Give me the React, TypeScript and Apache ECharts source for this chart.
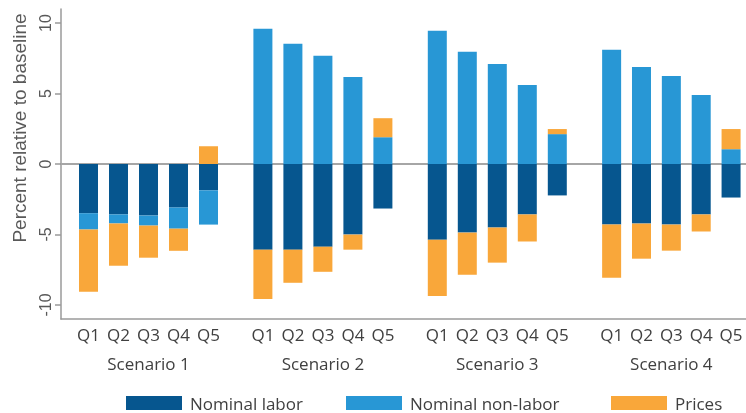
import React, { useEffect, useRef } from "react";
import * as echarts from "echarts";

const quintiles = ["Q1", "Q2", "Q3", "Q4", "Q5"];
const scenarios = ["Scenario 1", "Scenario 2", "Scenario 3", "Scenario 4"];
const seriesNames = ["Nominal labor", "Nominal non-labor", "Prices"];
const yTicks = [-10, -5, 0, 5, 10];

// Values per bar: scenario 1 Q1..Q5, scenario 2 Q1..Q5, ...
const nominalLabor = [
  -3.49, -3.58, -3.66, -3.09, -1.87,
  -6.08, -6.08, -5.87, -5.01, -3.16,
  -5.37, -4.87, -4.51, -3.58, -2.23,
  -4.3, -4.23, -4.3, -3.58, -2.38,
];
const nominalNonLabor = [
  -1.16, -0.64, -0.71, -1.5, -2.43,
  9.6, 8.53, 7.68, 6.18, 1.9,
  9.46, 7.96, 7.1, 5.6, 2.12,
  8.1, 6.89, 6.25, 4.9, 1.05,
];
const prices = [
  -4.42, -3.0, -2.28, -1.57, 1.26,
  -3.5, -2.35, -1.78, -1.07, 1.35,
  -3.99, -2.99, -2.49, -1.92, 0.36,
  -3.78, -2.49, -1.85, -1.21, 1.43,
];

const colors = ["#06568F", "#2897D5", "#F9A73A"];
const axisGray = "#9a9a9a";
const labelFont = "'Open Sans', sans-serif";
const tickFont = "'Liberation Sans', Arial, sans-serif";

// layout
const TOP = 9;
const BOTTOM = 94;
const PLOT_LEFT = 61;
const GROUP_LEFT0 = 73.5;
const GROUP_STEP = 174.4;
const GROUP_WIDTH = 150;
const Y_MIN = -11;
const Y_MAX = 11;

export default function App() {
  const ref = useRef<HTMLDivElement>(null);
  useEffect(() => {
    if (!ref.current) return;
    const chart = echarts.init(ref.current, undefined, { renderer: "svg" });
    const values = [nominalLabor, nominalNonLabor, prices];
    const n = quintiles.length;

    const grids: any[] = [{ left: PLOT_LEFT, right: 0, top: TOP, bottom: BOTTOM }];
    const xAxes: any[] = [
      {
        // bottom frame line
        gridIndex: 0,
        type: "value",
        min: 0,
        max: 1,
        position: "bottom",
        axisLine: { show: true, onZero: false, lineStyle: { color: axisGray, width: 1.5 } },
        axisTick: { show: false },
        axisLabel: { show: false },
        splitLine: { show: false },
      },
      {
        // zero line
        gridIndex: 0,
        type: "value",
        min: 0,
        max: 1,
        position: "bottom",
        axisLine: { show: true, onZero: true, lineStyle: { color: "#a6a6a6", width: 2 } },
        axisTick: { show: false },
        axisLabel: { show: false },
        splitLine: { show: false },
      },
    ];
    const yAxes: any[] = [
      {
        gridIndex: 0,
        type: "value",
        min: Y_MIN,
        max: Y_MAX,
        axisLine: { show: true, onZero: false, lineStyle: { color: axisGray, width: 1.5 } },
        axisTick: { show: true, length: 6, customValues: yTicks, lineStyle: { color: axisGray, width: 1.5 } },
        splitLine: { show: false },
        axisLabel: {
          customValues: yTicks,
          rotate: 90,
          margin: 8,
          fontSize: 16,
          fontFamily: tickFont,
          color: "#595959",
        },
      },
    ];
    const series: any[] = [];

    scenarios.forEach((scen, s) => {
      const g = s + 1;
      grids.push({
        left: GROUP_LEFT0 + s * GROUP_STEP,
        width: GROUP_WIDTH,
        top: TOP,
        bottom: BOTTOM,
      });
      xAxes.push({
        gridIndex: g,
        type: "category",
        data: quintiles,
        position: "bottom",
        axisLine: { show: false, onZero: false },
        axisTick: { show: false },
        splitLine: { show: false },
        axisLabel: {
          margin: 7,
          fontSize: 17,
          fontFamily: labelFont,
          color: "#404040",
          interval: 0,
        },
        name: scen,
        nameLocation: "middle",
        nameGap: 36,
        nameTextStyle: {
          fontSize: 17,
          fontFamily: labelFont,
          color: "#404040",
          verticalAlign: "top",
        },
      });
      yAxes.push({
        gridIndex: g,
        type: "value",
        min: Y_MIN,
        max: Y_MAX,
        show: false,
        splitLine: { show: false },
      });
      seriesNames.forEach((name, k) => {
        series.push({
          type: "bar",
          name,
          xAxisIndex: g + 1,
          yAxisIndex: g,
          stack: "total" + s,
          barWidth: 19,
          itemStyle: { color: colors[k] },
          data: values[k].slice(s * n, s * n + n),
        });
      });
    });

    const legendLefts = [126, 346, 611];
    chart.setOption({
      animation: false,
      grid: grids,
      xAxis: xAxes,
      yAxis: yAxes,
      legend: seriesNames.map((name, k) => ({
        data: [name],
        left: legendLefts[k],
        top: 393.5,
        padding: 0,
        itemWidth: 56,
        itemHeight: 14,
        icon: "rect",
        selectedMode: false,
        textStyle: {
          fontSize: 17,
          lineHeight: 14,
          fontFamily: labelFont,
          color: "#404040",
          padding: [0, 0, 5, 3],
        },
      })),
      graphic: [
        {
          type: "text",
          x: 19.5,
          y: 128,
          rotation: Math.PI / 2,
          style: {
            text: "Percent relative to baseline",
            fontSize: 19,
            fontFamily: tickFont,
            fill: "#595959",
            align: "center",
            verticalAlign: "middle",
          },
        },
      ],
      series,
    });
    return () => chart.dispose();
  }, []);
  return (
    <div
      ref={ref}
      style={{ position: "fixed", left: 0, top: 0, width: 746, height: 413 }}
    />
  );
}
